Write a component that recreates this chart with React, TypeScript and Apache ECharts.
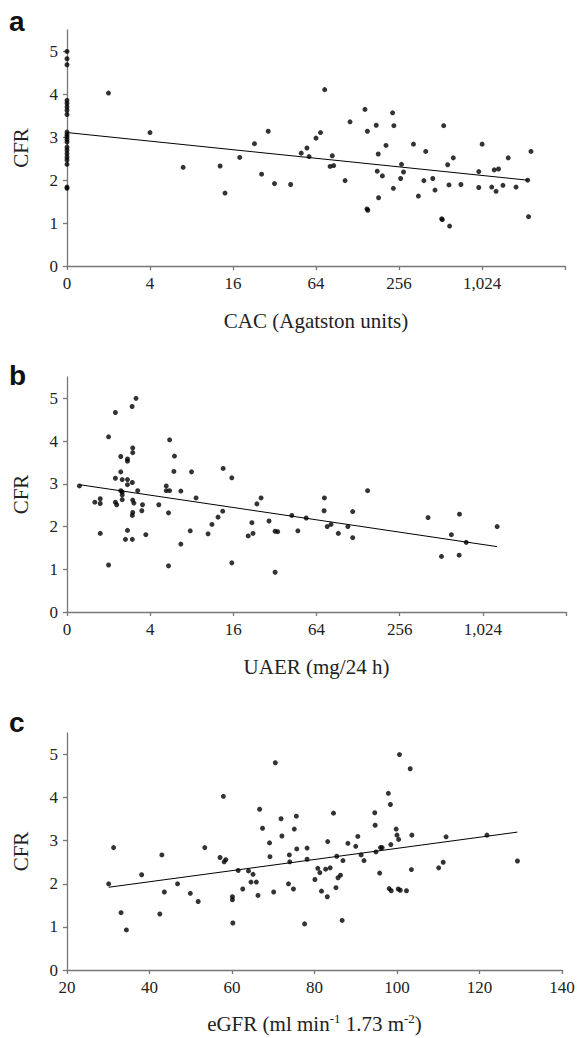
import React, { useEffect, useRef } from "react";
import * as echarts from "echarts";

// Panel a: CAC (Agatston units) vs CFR  (CAC 0 plotted at the "0" position)
const cacX = [
  0, 0, 0, 0, 0, 0, 0, 0, 0, 0, 0, 0, 0, 0, 0, 0, 0, 0, 0, 0, 0,
  2.0, 4, 6.96, 12.9, 14.0, 17.9, 22.9, 25.8, 28.8, 32, 41.9, 50, 55, 57, 64, 69, 74, 84, 81, 86,
  104, 113, 145, 151, 150, 152, 175, 181, 178, 194, 182, 206, 230, 235, 233, 267, 276, 263, 326,
  354, 388, 400, 450, 467, 522, 528, 540, 577, 590, 596, 634, 720, 970, 970, 1026, 1205, 1256,
  1349, 1295, 1453, 1587, 1808, 2195, 2228, 2320,
];
const cacCFR = [
  5.0, 4.83, 4.69, 3.86, 3.79, 3.71, 3.63, 3.53, 3.12, 3.06, 3.01, 2.95, 2.89, 2.77, 2.7, 2.62, 2.54, 2.47, 2.37, 1.84, 1.81,
  4.03, 3.11, 2.3, 2.33, 1.7, 2.53, 2.85, 2.14, 3.14, 1.92, 1.9, 2.63, 2.75, 2.55, 2.98, 3.11, 4.11, 2.57, 2.32, 2.34,
  1.99, 3.36, 3.65, 3.14, 1.33, 1.3, 3.28, 2.61, 2.21, 2.1, 1.59, 2.81, 3.57, 3.27, 1.81, 2.37, 2.19, 2.04, 2.84,
  1.63, 1.99, 2.67, 2.04, 1.77, 1.1, 1.08, 3.27, 2.36, 1.89, 0.93, 2.52, 1.9, 2.2, 1.83, 2.84, 1.84, 2.24,
  2.26, 1.74, 1.88, 2.52, 1.84, 2.0, 1.15, 2.67,
];
const cacFitX = [1, 2200];
const cacFitY = [3.11, 2.0];

// Panel b: UAER (mg/24 h) vs CFR
const uaerX = [
  1.23, 1.59, 1.74, 1.74, 1.74, 2.0, 2.0, 2.24, 2.24, 2.24, 2.29, 2.45, 2.45, 2.45, 2.51, 2.51, 2.51, 2.51,
  2.65, 2.74, 2.74, 2.74, 2.74, 2.74, 2.96, 2.99, 2.99, 2.97, 2.99, 3.05, 2.99, 2.97, 2.97, 3.16, 3.25,
  3.52, 3.48, 3.72, 4.62, 5.23, 5.23, 5.53, 5.53, 5.43, 5.43, 6.0, 5.94, 6.67, 6.67, 7.8, 7.97, 8.6,
  10.5, 11.2, 12.4, 13.5, 13.4, 15.6, 15.6, 20.5, 21.8, 22.2, 23.7, 25.4, 29.0, 32.1, 33.5, 32.1,
  42.4, 46.9, 53.9, 73.0, 72.6, 76.5, 81.5, 92.1, 108, 117, 117, 150, 411, 514, 606, 694, 690, 776, 1300,
];
const uaerCFR = [
  2.95, 2.57, 2.65, 2.54, 1.84, 4.1, 1.1, 4.67, 3.13, 2.57, 2.51, 3.64, 3.28, 2.84, 2.81, 3.1, 2.74, 2.63,
  1.7, 3.58, 3.53, 3.1, 2.98, 1.91, 4.81, 3.73, 3.84, 3.03, 2.62, 2.55, 2.33, 2.26, 1.7, 5.0, 2.84,
  2.51, 2.37, 1.81, 2.51, 2.95, 2.84, 2.84, 4.03, 2.32, 1.08, 3.65, 3.29, 2.83, 1.59, 1.9, 3.28, 2.67,
  1.83, 2.05, 2.22, 3.36, 2.36, 3.14, 1.15, 1.78, 2.09, 1.84, 2.53, 2.67, 2.13, 1.89, 1.88, 0.93,
  2.26, 1.9, 2.2, 2.67, 2.37, 2.0, 2.05, 1.84, 2.0, 2.35, 1.74, 2.84, 2.21, 1.3, 1.81, 2.29, 1.33, 1.63, 2.0,
];
const uaerFitX = [1.23, 1300];
const uaerFitY = [2.98, 1.53];

// Panel c: eGFR vs CFR
const egfrX = [
  30.1, 31.3, 33.1, 34.4, 38.1, 42.5, 43.0, 43.6, 46.8, 49.9, 51.8, 53.4, 57.1, 57.9, 58.1, 58.5,
  60.1, 60.1, 60.2, 61.5, 62.6, 64.0, 64.6, 65.1, 65.9, 66.3, 66.7, 67.4, 69.1, 69.2, 70.1, 70.5,
  71.9, 72.1, 73.7, 73.9, 74.0, 74.9, 75.1, 75.6, 75.7, 77.6, 78.2, 78.2, 80.1, 80.8, 81.3, 81.7,
  82.7, 83.1, 83.2, 83.8, 84.6, 85.2, 85.4, 85.7, 86.3, 86.7, 86.9, 88.1, 90.0, 90.5, 91.3, 92.0,
  94.6, 94.7, 94.9, 95.8, 96.0, 96.4, 97.9, 98.1, 98.6, 98.4, 98.5, 99.8, 100.0, 100.4, 100.3, 100.8,
  100.6, 102.3, 103.2, 103.5, 103.6, 110.1, 111.2, 111.9, 121.8, 129.2,
];
const egfrCFR = [
  2.0, 2.84, 1.33, 0.93, 2.21, 1.3, 2.67, 1.81, 2.0, 1.78, 1.59, 2.84, 2.61, 4.03, 2.51, 2.56,
  1.7, 1.63, 1.09, 2.31, 1.88, 2.3, 2.04, 2.22, 2.04, 1.73, 3.73, 3.29, 2.95, 2.63, 1.81, 4.81,
  3.51, 3.11, 2.0, 2.67, 2.51, 1.88, 3.27, 3.57, 2.81, 1.07, 2.83, 2.57, 2.1, 2.36, 2.26, 1.83,
  2.34, 1.7, 2.98, 2.37, 3.64, 1.91, 2.64, 2.14, 2.2, 1.15, 2.54, 2.94, 2.87, 3.1, 2.67, 2.54,
  3.65, 3.36, 2.74, 2.25, 2.84, 2.84, 4.1, 1.89, 1.84, 3.84, 2.91, 3.27, 3.13, 3.03, 1.88, 1.85,
  5.0, 1.84, 4.67, 2.33, 3.13, 2.37, 2.5, 3.09, 3.13, 2.53,
];
const egfrFitX = [30.1, 129.2];
const egfrFitY = [1.92, 3.2];

const cfrTicks = [0, 1, 2, 3, 4, 5];
const logTickLabels: Record<number, string> = { 1: "0", 4: "4", 16: "16", 64: "64", 256: "256", 1024: "1,024", 4096: "" };

const SERIF = "Liberation Serif";
const AXIS_COLOR = "#777";
const TEXT_COLOR = "#222";

const zip = (xs: number[], ys: number[], minX = -Infinity) => xs.map((x, i) => [Math.max(x, minX), ys[i]]);

export default function App() {
  const ref = useRef<HTMLDivElement>(null);
  useEffect(() => {
    if (!ref.current) return;
    const chart = echarts.init(ref.current, null, { renderer: "svg" });
    const grids = [
      { left: 67, top: 30, width: 498, height: 236 },
      { left: 67, top: 377, width: 499, height: 235 },
      { left: 67, top: 733, width: 495, height: 237 },
    ];
    const axisLine = { show: true, lineStyle: { color: AXIS_COLOR, width: 1.3 } };
    const axisTick = { show: true, length: 4, lineStyle: { color: AXIS_COLOR, width: 1.3 } };
    const nameStyle = { fontFamily: SERIF, fontSize: 21, color: TEXT_COLOR };

    const logX = (gi: number, name: string) => ({
      type: "log",
      logBase: 4,
      gridIndex: gi,
      min: 1,
      max: 4096,
      name,
      nameLocation: "middle",
      nameGap: 44,
      nameTextStyle: nameStyle,
      axisLine,
      axisTick,
      splitLine: { show: false },
      axisLabel: {
        fontFamily: SERIF,
        fontSize: 17,
        color: TEXT_COLOR,
        margin: 9,
        formatter: (v: number) => {
          const r = Math.round(v);
          return logTickLabels[r] !== undefined ? logTickLabels[r] : "";
        },
      },
    });

    const yAx = (gi: number) => ({
      type: "value",
      gridIndex: gi,
      min: 0,
      max: 5.5,
      name: "CFR",
      nameLocation: "middle",
      nameGap: 36,
      nameTextStyle: nameStyle,
      axisLine,
      axisTick: { ...axisTick, customValues: cfrTicks },
      splitLine: { show: false },
      axisLabel: { fontFamily: SERIF, fontSize: 17, color: TEXT_COLOR, margin: 9, customValues: cfrTicks },
    });

    const scatter = (gi: number, data: number[][]) => ({
      type: "scatter",
      xAxisIndex: gi,
      yAxisIndex: gi,
      data,
      symbolSize: 5,
      itemStyle: { color: "#000" },
      silent: true,
    });
    const fit = (gi: number, data: number[][]) => ({
      type: "line",
      xAxisIndex: gi,
      yAxisIndex: gi,
      data,
      symbol: "none",
      lineStyle: { color: "#000", width: 1 },
      silent: true,
    });

    const titleText = (t: string, x: number, y: number) => ({
      type: "text",
      x,
      y,
      style: { text: t, font: "bold 28px 'Liberation Sans', Arial, sans-serif", fill: "#111", textVerticalAlign: "bottom" },
    });

    chart.setOption({
      animation: false,
      backgroundColor: "#fff",
      textStyle: { fontFamily: SERIF, color: TEXT_COLOR },
      grid: grids,
      xAxis: [
        logX(0, "CAC (Agatston units)"),
        logX(1, "UAER (mg/24 h)"),
        {
          type: "value",
          gridIndex: 2,
          min: 20,
          max: 140,
          interval: 20,
          name: "{n|eGFR (ml min}{s|-1}{n| 1.73 m}{s|-2}{n|)}",
          nameLocation: "middle",
          nameGap: 42,
          nameTextStyle: {
            ...nameStyle,
            rich: {
              n: { fontFamily: SERIF, fontSize: 21, color: TEXT_COLOR, lineHeight: 24 },
              s: { fontFamily: SERIF, fontSize: 13, color: TEXT_COLOR, verticalAlign: "top", lineHeight: 24 },
            },
          },
          axisLine,
          axisTick,
          splitLine: { show: false },
          axisLabel: { fontFamily: SERIF, fontSize: 17, color: TEXT_COLOR, margin: 9 },
        },
      ],
      yAxis: [yAx(0), yAx(1), yAx(2)],
      series: [
        scatter(0, zip(cacX, cacCFR, 1)),
        fit(0, zip(cacFitX, cacFitY)),
        scatter(1, zip(uaerX, uaerCFR)),
        fit(1, zip(uaerFitX, uaerFitY)),
        scatter(2, zip(egfrX, egfrCFR)),
        fit(2, zip(egfrFitX, egfrFitY)),
      ],
      graphic: [titleText("a", 9, 35), titleText("b", 9, 389), titleText("c", 9, 736)],
    });
    return () => chart.dispose();
  }, []);
  return <div ref={ref} style={{ position: "fixed", left: 0, top: 0, width: 578, height: 1038 }} />;
}
